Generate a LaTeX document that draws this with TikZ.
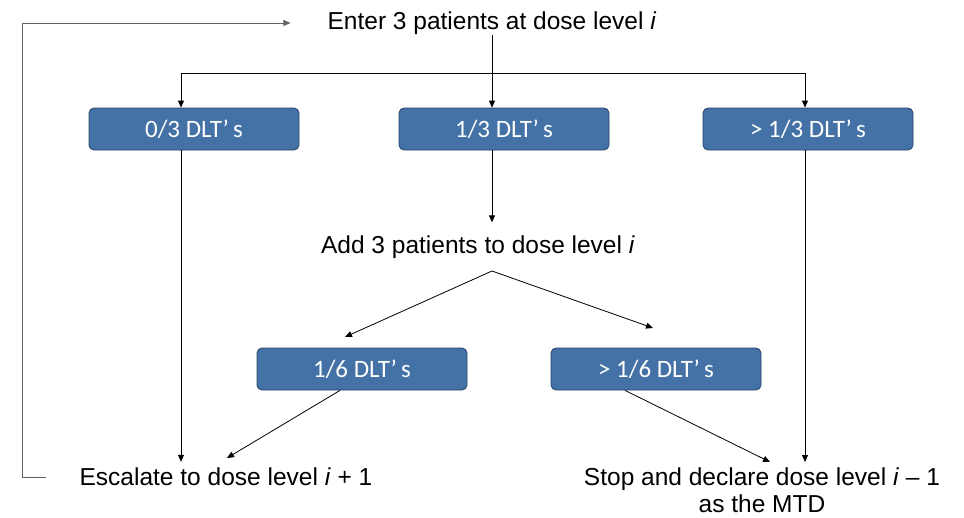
\documentclass[tikz,border=0pt]{standalone}
\usepackage{fontspec}
\setmainfont{Liberation Sans}
\newfontfamily\boxfont{Carlito}
\usetikzlibrary{arrows.meta}
\definecolor{dltblue}{RGB}{68,114,166}
\definecolor{dltedge}{RGB}{42,68,100}
\tikzset{
	dlt/.style={draw=dltedge, line width=0.8pt, fill=dltblue, rounded corners=5pt, minimum width=210pt, minimum height=42pt, inner sep=0pt, text=white, font=\boxfont\fontsize{25}{28}\selectfont},
	txt/.style={inner sep=0pt, align=center, font=\fontsize{24.5}{27}\selectfont},
	arr/.style={-{Triangle[length=7pt,width=6pt]}, line width=0.8pt},
	fb/.style={line width=1.5pt, color=black!62},
}

\begin{document}
\begin{tikzpicture}[x=1pt, y=-1pt]
		%%%%% START %%%%%
		\useasboundingbox (0, 0) rectangle (964, 517);
		
		\node[txt] (enter) at (492, 23) {Enter 3 patients at dose level \textit{i}};
		
		\node[dlt] (b1) at (194, 129) {0/3 DLT’\,s};
		\node[dlt] (b2) at (504, 129) {1/3 DLT’\,s};
		\node[dlt] (b3) at (808, 129) {> 1/3 DLT’\,s};
		
		\node[txt] (add) at (478, 247) {Add 3 patients to dose level \textit{i}};
		
		\node[dlt] (b4) at (362, 369) {1/6 DLT’\,s};
		\node[dlt] (b5) at (656, 369) {> 1/6 DLT’\,s};
		
		\node[txt] (esc) at (226, 477) {Escalate to dose level \textit{i} + 1};
		\node[txt, anchor=north] (stop) at (762, 468) {Stop and declare dose level \textit{i} -- 1\\as the MTD};
		
		\coordinate (t1) at (181, 73);
		\coordinate (t3) at (805, 73);
		\coordinate (ap) at (492, 271);
		\coordinate (l6) at (345, 337);
		\coordinate (r6) at (653, 328);
		\coordinate (e1) at (227, 458);
		\coordinate (s1) at (770, 462);
		\coordinate (lp) at (22, 477);
		
		% first three
		\draw[arr] (enter.south -| ap) -- (ap |- b2.north);
		\draw[line width=0.8pt] (t1) -- (t3);
		\draw[arr] (t1) -- (t1 |- b1.north);
		\draw[arr] (t3) -- (t3 |- b3.north);
		
		% 1/3 goes on
		\draw[arr] (ap |- b2.south) -- ([yshift=13pt]ap |- add.north);
		\draw[arr] (ap) -- (l6);
		\draw[arr] (ap) -- (r6);
		
		% down to the end
		\draw[arr] (t1 |- b1.south) -- ([yshift=6pt]t1 |- esc.north);
		\draw[arr] ([xshift=-22pt]b4.south) -- (e1);
		\draw[arr] ([xshift=-31pt]b5.south) -- (s1);
		\draw[arr] (t3 |- b3.south) -- ([yshift=6pt]t3 |- stop.north);
		
		% back to the top
		\draw[fb, arr] ([xshift=-33pt]esc.west) -- (lp) |- ([xshift=-37pt]enter.west);
		
		%%%%% END %%%%%
	\end{tikzpicture}
\end{document}
